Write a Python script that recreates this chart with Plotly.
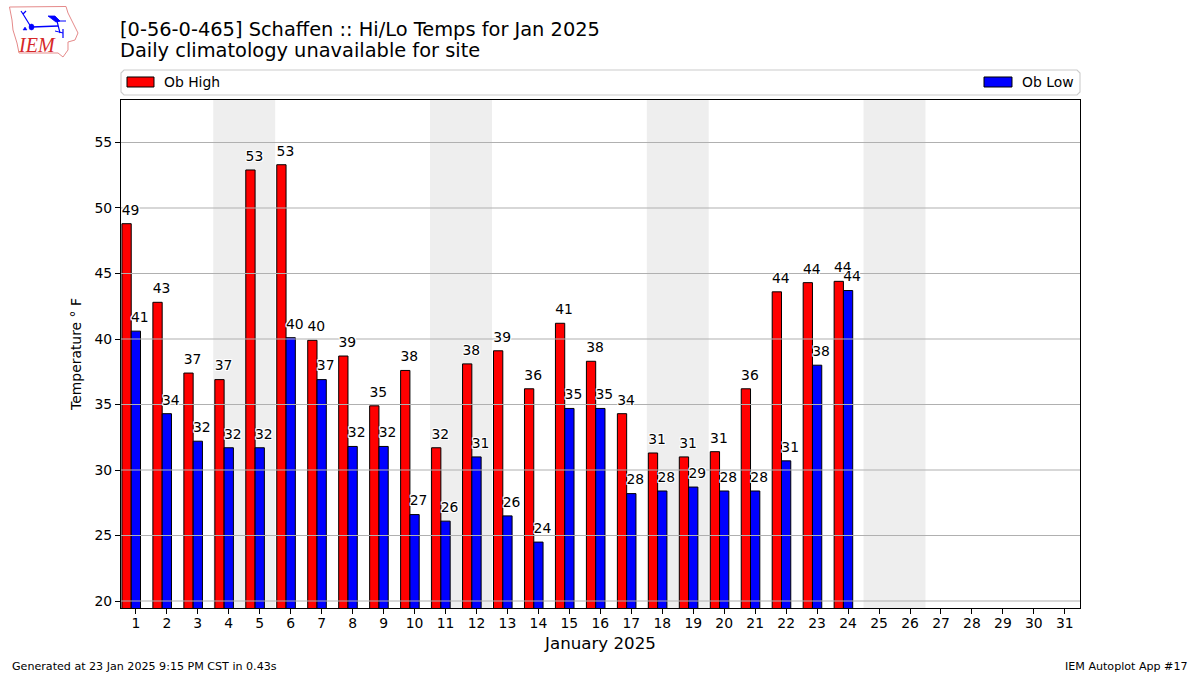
import plotly.graph_objects as go

days = list(range(1, 32))
highs = [48.8, 42.8, 37.4, 36.9, 52.9, 53.3, 39.9, 38.7, 34.9, 37.6, 31.7, 38.1,
         39.1, 36.2, 41.2, 38.3, 34.3, 31.3, 31.0, 31.4, 36.2, 43.6, 44.3, 44.4]
lows = [40.6, 34.3, 32.2, 31.7, 31.7, 40.1, 36.9, 31.8, 31.8, 26.6, 26.1, 31.0,
        26.5, 24.5, 34.7, 34.7, 28.2, 28.4, 28.7, 28.4, 28.4, 30.7, 38.0, 43.7]
weekends = [(3.5, 5.5), (10.5, 12.5), (17.5, 19.5), (24.5, 26.5)]
y_ticks = [20, 25, 30, 35, 40, 45, 50, 55]

W, H = 1200, 675
L, R, T, B = 121, 1080, 100, 608
FONT = "DejaVu Sans"
OUTLINE = ", ".join(f"{a}px {b}px 0 #fff" for a in (-1, 0, 1) for b in (-1, 0, 1))


def px(x):
    return (x - L) / (R - L)


def py(y):
    return (B - y) / (B - T)


def path(points, close=False):
    d = "M" + " L".join(f"{px(x):.5f},{py(y):.5f}" for x, y in points)
    return d + (" Z" if close else "")


fig = go.Figure()
x_hi = [d - 0.3 for d in days[: len(highs)]]
x_lo = days[: len(lows)]
fig.add_bar(x=x_hi, y=highs, width=0.3, name="Ob High", showlegend=False,
            marker=dict(color="#ff0000", line=dict(color="black", width=1)))
fig.add_bar(x=x_lo, y=lows, width=0.3, name="Ob Low", showlegend=False,
            marker=dict(color="#0000ff", line=dict(color="black", width=1)))

grid_x, grid_y = [], []
for v in y_ticks:
    grid_x += [0.5, 31.5, None]
    grid_y += [v, v, None]
fig.add_scatter(x=grid_x, y=grid_y, mode="lines", showlegend=False, hoverinfo="skip",
                line=dict(color="#b0b0b0", width=1.1))

label_font = dict(family=FONT, size=13.9, color="black", shadow=OUTLINE)
fig.add_scatter(x=[x + 0.13 for x in x_hi], y=[v + 0.43 for v in highs], mode="text",
                text=[f"{round(v)}" for v in highs], textposition="top center",
                textfont=label_font, showlegend=False, hoverinfo="skip")
fig.add_scatter(x=[x + 0.13 for x in x_lo], y=[v + 0.43 for v in lows], mode="text",
                text=[f"{round(v)}" for v in lows], textposition="top center",
                textfont=label_font, showlegend=False, hoverinfo="skip")

shapes = [dict(type="rect", xref="x", yref="y domain", x0=a, x1=b, y0=0, y1=1,
               fillcolor="#eeeeee", line_width=0, layer="below") for a, b in weekends]


def pshape(points, close=False, fill=None, color="blue", width=1.5):
    return dict(type="path", xref="paper", yref="paper", path=path(points, close),
                fillcolor=fill, line=dict(color=color, width=width), layer="above")


# legend frame and swatches
shapes.append(pshape([(124, 70), (1077, 70), (1080, 73), (1080, 92), (1077, 95), (124, 95), (121, 92), (121, 73)],
                     True, "rgba(255,255,255,0.8)", "#cccccc", 1.1))
shapes.append(pshape([(127, 77), (154, 77), (154, 87), (127, 87)], True, "#ff0000", "black", 1))
shapes.append(pshape([(984, 77), (1012, 77), (1012, 87), (984, 87)], True, "#0000ff", "black", 1))

# IEM logo
outline = [(9.5, 7), (66, 6.5), (68, 13), (74, 25), (78, 33), (75, 40), (68, 42), (68, 50),
           (63, 57), (58, 53), (19, 53), (17, 43), (13, 30), (12, 20)]
shapes.append(pshape(outline, True, None, "#e58a8a", 1))
shapes.append(pshape([(32, 27), (58, 26)], width=1.6))
shapes.append(pshape([(31, 27), (23, 14), (21, 11)], width=1.2))
shapes.append(pshape([(23, 14), (26, 11)], width=1.2))
shapes.append(pshape([(48, 16), (55, 16), (60, 21), (56, 22)], True, "blue", "blue", 0.8))
shapes.append(pshape([(56, 21), (66, 21)], width=1))
shapes.append(pshape([(57, 21), (60, 33)], width=1.2))
shapes.append(pshape([(63, 29), (63, 38)], width=1.2))
shapes.append(pshape([(55, 31), (63, 33)], width=1))
shapes.append(dict(type="circle", xref="paper", yref="paper", x0=px(29), x1=px(34), y0=py(30), y1=py(24),
                   fillcolor="blue", line=dict(color="blue", width=0.5), layer="above"))
shapes.append(pshape([(23, 30), (27, 30), (25, 27)], True, "blue", "blue", 0.5))


def note(text, x, y, size, anchor="left", color="black", family=FONT):
    shift = {"left": -2, "right": 2, "center": 0}[anchor]
    fig.add_annotation(text=text, x=px(x + shift), y=py(y), xref="paper", yref="paper", showarrow=False,
                       xanchor=anchor, yanchor="middle", align=anchor,
                       font=dict(family=family, size=size, color=color))


note("[0-56-0-465] Schaffen :: Hi/Lo Temps for Jan 2025", 120, 29, 19.4)
note("Daily climatology unavailable for site", 120, 51, 19.4)
note("Ob High", 164, 82, 13.9)
note("Ob Low", 1074, 82, 13.9, "right")
note("Generated at 23 Jan 2025 9:15 PM CST in 0.43s", 12, 666, 11.1)
note("IEM Autoplot App #17", 1188, 666, 11.1, "right")
note("<i>IEM</i>", 37, 45, 20, "center", "#d62728", "Liberation Serif")

fig.update_layout(
    width=W, height=H, autosize=False, barmode="overlay", showlegend=False,
    margin=dict(l=L, r=W - R, t=T, b=H - B, pad=0),
    paper_bgcolor="white", plot_bgcolor="white",
    font=dict(family=FONT, size=13.9, color="black"),
    shapes=shapes,
    xaxis=dict(range=[0.52, 31.49], tickvals=days, ticktext=[str(d) for d in days],
               ticks="outside", ticklen=5, tickwidth=1.1, tickcolor="black",
               showline=True, linewidth=1.1, linecolor="black", mirror=True,
               showgrid=False, zeroline=False, tickangle=0, ticklabelstandoff=-3,
               title=dict(text="January 2025", font=dict(family=FONT, size=16.67), standoff=7)),
    yaxis=dict(range=[19.47, 58.24], tickvals=y_ticks,
               ticks="outside", ticklen=5, tickwidth=1.1, tickcolor="black",
               showline=True, linewidth=1.1, linecolor="black", mirror=True,
               showgrid=False, zeroline=False,
               title=dict(text="Temperature ° F", font=dict(family=FONT, size=13.9), standoff=9)),
)

fig.write_html("out.html", config={"displayModeBar": False},
               post_script="document.body.style.margin='0';document.documentElement.style.overflow='hidden';")
